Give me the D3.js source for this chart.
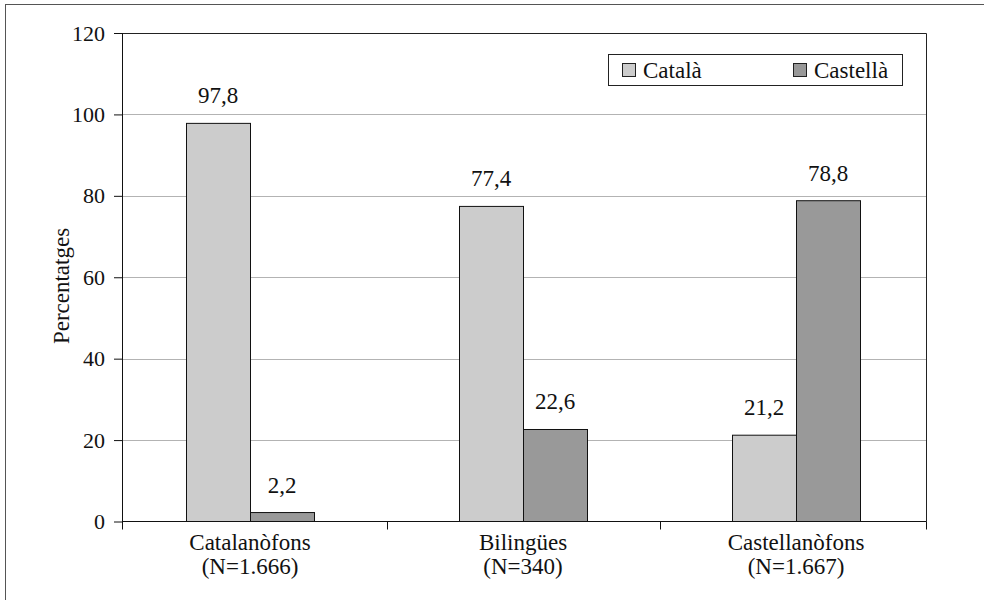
<!DOCTYPE html>
<html>
<head>
<meta charset="utf-8">
<script src="https://cdn.jsdelivr.net/npm/d3@7"></script>
</head>
<body style="margin:0; background:#fff">
<svg width="984" height="600"></svg>
<script>
// **** data ****
var categories = ['Catalanòfons', 'Bilingües', 'Castellanòfons']
var sampleSizes = ['(N=1.666)', '(N=340)', '(N=1.667)']
var seriesNames = ['Català', 'Castellà']
var catala = [97.8, 77.4, 21.2]
var castella = [2.2, 22.6, 78.8]
var yTicks = [0, 20, 40, 60, 80, 100, 120]

var colors = ['#cccccc', '#999999']
var serif = "'Liberation Serif'"
var fontSize = 23
var tickFontSize = 22

var svg = d3.select('svg')

// outer frame
svg.append('rect')
    .attr('x', 5.5).attr('y', 4.5)
    .attr('width', 1000).attr('height', 700)
    .attr('fill', 'none')
    .attr('stroke', '#555')

// **** scales ****
var plotLeft = 122, plotRight = 926, plotTop = 33, plotBottom = 521.5

var yScale = d3.scaleLinear()
    .domain([0, 120]).range([plotBottom, plotTop])

var x0 = d3.scaleBand()
    .domain(categories).range([113.5, 932.5])

var x1 = d3.scaleBand()
    .domain(seriesNames).range([0, 128])

var groupOffset = (x0.bandwidth() - 128) / 2

var comma = d3.formatLocale({decimal: ',', thousands: '.', grouping: [3], currency: ['', '']})
var fmt = comma.format('.1f')

// gridlines
svg.append('g')
    .selectAll('line')
    .data(yTicks.filter(function(d) { return d > 0 && d < 120 }))
    .enter()
    .append('line')
    .attr('x1', plotLeft).attr('x2', plotRight)
    .attr('y1', function(d) { return Math.round(yScale(d)) + 0.5 })
    .attr('y2', function(d) { return Math.round(yScale(d)) + 0.5 })
    .attr('stroke', '#b3b3b3')

// plot frame top + right
svg.append('path')
    .attr('d', 'M' + plotLeft + ',' + (plotTop + 0.5) + 'H' + (plotRight + 0.5) + 'V' + plotBottom)
    .attr('fill', 'none')
    .attr('stroke', '#222')

// **** bars ****
var rows = categories.map(function(c, i) {
    return {cat: c, values: [{s: seriesNames[0], v: catala[i]}, {s: seriesNames[1], v: castella[i]}]}
})

var groups = svg.append('g')
    .selectAll('g')
    .data(rows)
    .enter()
    .append('g')
    .attr('transform', function(d) { return 'translate(' + (x0(d.cat) + groupOffset) + ',0)' })

groups.selectAll('rect')
    .data(function(d) { return d.values })
    .enter()
    .append('rect')
    .attr('x', function(d) { return x1(d.s) + 0.5 })
    .attr('y', function(d) { return yScale(d.v) })
    .attr('width', x1.bandwidth())
    .attr('height', function(d) { return plotBottom - yScale(d.v) })
    .attr('fill', function(d, i) { return colors[i] })
    .attr('stroke', '#111')
    .attr('stroke-width', 1)

groups.selectAll('text')
    .data(function(d) { return d.values })
    .enter()
    .append('text')
    .attr('x', function(d) { return x1(d.s) + x1.bandwidth() / 2 })
    .attr('y', function(d) { return yScale(d.v) - 20 })
    .attr('text-anchor', 'middle')
    .style('font-family', serif)
    .style('font-size', fontSize + 'px')
    .style('fill', '#111')
    .text(function(d) { return fmt(d.v) })

// **** axes ****
var yAxis = svg.append('g').attr('class', 'y axis')
    .attr('transform', 'translate(' + plotLeft + ',0)')
    .call(d3.axisLeft(yScale).tickValues(yTicks).tickSize(8).tickSizeOuter(0).tickPadding(9))
yAxis.select('.domain').attr('stroke', '#111').attr('d', 'M0.5,' + plotTop + 'V' + (plotBottom + 8))
yAxis.selectAll('.tick line').attr('stroke', '#111')
yAxis.selectAll('.tick text')
    .style('font-family', serif)
    .style('font-size', tickFontSize + 'px')
    .style('fill', '#111')

// x axis line and category boundary ticks
svg.append('line')
    .attr('x1', plotLeft).attr('x2', plotRight + 0.5)
    .attr('y1', plotBottom).attr('y2', plotBottom)
    .attr('stroke', '#111')

var centers = categories.map(function(c) { return x0(c) + x0.bandwidth() / 2 })
var bounds = [plotLeft]
for (var i = 0; i < centers.length - 1; i++) {
    bounds.push(Math.round((centers[i] + centers[i + 1]) / 2))
}
bounds.push(plotRight)

svg.append('g')
    .selectAll('line')
    .data(bounds.slice(1))
    .enter()
    .append('line')
    .attr('x1', function(d) { return d + 0.5 })
    .attr('x2', function(d) { return d + 0.5 })
    .attr('y1', plotBottom).attr('y2', plotBottom + 8)
    .attr('stroke', '#111')

var xLabels = svg.append('g')
    .selectAll('text')
    .data(categories)
    .enter()
    .append('text')
    .attr('text-anchor', 'middle')
    .style('font-family', serif)
    .style('font-size', fontSize + 'px')
    .style('fill', '#111')

xLabels.append('tspan')
    .attr('x', function(d) { return x0(d) + x0.bandwidth() / 2 })
    .attr('y', 550)
    .text(function(d) { return d })

xLabels.append('tspan')
    .attr('x', function(d) { return x0(d) + x0.bandwidth() / 2 })
    .attr('y', 574)
    .text(function(d, i) { return sampleSizes[i] })

svg.append('text')
    .attr('transform', 'translate(69,286) rotate(-90)')
    .attr('text-anchor', 'middle')
    .style('font-family', serif)
    .style('font-size', fontSize + 'px')
    .style('fill', '#111')
    .text('Percentatges')

// **** legend ****
var legend = svg.append('g').attr('transform', 'translate(608,54)')
legend.append('rect')
    .attr('x', 0.5).attr('y', 0.5)
    .attr('width', 294).attr('height', 31)
    .attr('fill', '#fff')
    .attr('stroke', '#222')

var legendX = [14, 185]
var items = legend.selectAll('g.item')
    .data(seriesNames)
    .enter()
    .append('g')
    .attr('class', 'item')
    .attr('transform', function(d, i) { return 'translate(' + legendX[i] + ',0)' })

items.append('rect')
    .attr('x', 0.5).attr('y', 9.5)
    .attr('width', 13).attr('height', 13)
    .attr('fill', function(d, i) { return colors[i] })
    .attr('stroke', '#222')

items.append('text')
    .attr('x', 21)
    .attr('y', 23.5)
    .style('font-family', serif)
    .style('font-size', fontSize + 'px')
    .style('fill', '#111')
    .text(function(d) { return d })
</script>
</body>
</html>
